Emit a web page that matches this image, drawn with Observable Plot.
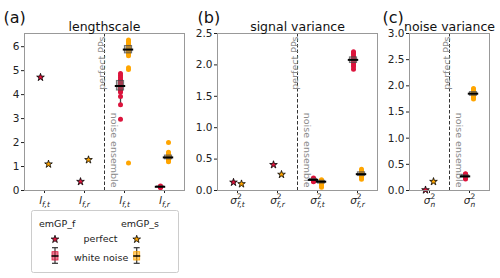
<!DOCTYPE html>
<html><head><meta charset="utf-8">
<script src="https://cdn.jsdelivr.net/npm/d3@7"></script>
<script src="https://cdn.jsdelivr.net/npm/@observablehq/plot@0.6"></script>
<style>
html,body{margin:0;padding:0;background:#fff;}
#root{position:relative;width:500px;height:278px;overflow:hidden;font-family:"DejaVu Sans",sans-serif;}
#root svg{position:absolute;top:0;}
</style></head><body><div id="root"></div>
<script>
const RED = "#dc143c", ORANGE = "#ffa500";

// ---------- (a) lengthscale ----------
const lsLabels = ["l_{f,t}", "l_{f,r}", "l_{f,t}", "l_{f,r}"];
const lsPerfectF = [4.72, 0.37];
const lsPerfectS = [1.10, 1.28];
const lsNoiseFt = [2.97, 3.58, 3.92, 4.10, 4.15, 4.20, 4.25, 4.30, 4.33, 4.36, 4.40, 4.44, 4.48, 4.53, 4.58, 4.64, 4.72, 4.80, 4.88];
const lsNoiseSt = [1.15, 5.05, 5.12, 5.62, 5.68, 5.74, 5.80, 5.85, 5.88, 5.92, 5.96, 6.00, 6.05, 6.10, 6.16, 6.22, 6.28];
const lsNoiseFr = [0.12, 0.14, 0.15, 0.16, 0.17, 0.19];
const lsNoiseSr = [1.20, 1.24, 1.28, 1.32, 1.36, 1.39, 1.43, 1.48, 1.55, 1.60, 2.00];
// box stats: [q1, median, q3, whisker low, whisker high]
const lsBoxFt = [4.17, 4.36, 4.57, 3.58, 4.88];
const lsBoxSt = [5.72, 5.88, 6.03, 5.62, 6.28];
const lsBoxFr = [0.14, 0.155, 0.17, 0.12, 0.19];
const lsBoxSr = [1.30, 1.38, 1.46, 1.20, 1.60];
const lsTicks = [0, 1, 2, 3, 4, 5, 6];

// ---------- (b) signal variance ----------
const svLabels = ["σ^2_{f,t}", "σ^2_{f,r}", "σ^2_{f,t}", "σ^2_{f,r}"];
const svPerfectF = [0.13, 0.41];
const svPerfectS = [0.105, 0.255];
const svNoiseFt = [0.14, 0.15, 0.16, 0.165, 0.17, 0.175, 0.18, 0.19, 0.20];
const svNoiseSt = [0.05, 0.08, 0.10, 0.12, 0.13, 0.14, 0.15, 0.16, 0.17];
const svNoiseFr = [1.93, 1.97, 2.00, 2.03, 2.05, 2.07, 2.09, 2.11, 2.13, 2.16, 2.19, 2.21];
const svNoiseSr = [0.18, 0.21, 0.23, 0.25, 0.26, 0.27, 0.29, 0.31, 0.34];
const svBoxFt = [0.155, 0.17, 0.185, 0.14, 0.20];
const svBoxSt = [0.11, 0.14, 0.155, 0.05, 0.17];
const svBoxFr = [2.03, 2.08, 2.12, 1.93, 2.21];
const svBoxSr = [0.23, 0.26, 0.29, 0.18, 0.34];
const svTicks = [0, 0.5, 1.0, 1.5, 2.0, 2.5];

// ---------- (c) noise variance ----------
const nvLabels = ["σ^2_{n}", "σ^2_{n}"];
const nvPerfectF = [0.01];
const nvPerfectS = [0.17];
const nvNoiseF = [0.22, 0.24, 0.25, 0.26, 0.27, 0.28, 0.29, 0.31, 0.32];
const nvNoiseS = [1.75, 1.78, 1.80, 1.82, 1.84, 1.85, 1.86, 1.88, 1.90, 1.93, 1.95];
const nvBoxF = [0.25, 0.27, 0.29, 0.22, 0.32];
const nvBoxS = [1.81, 1.85, 1.88, 1.75, 1.95];
const nvTicks = [0, 0.5, 1.0, 1.5, 2.0, 2.5, 3.0];

const root = document.getElementById("root");

function richLabel(el, s) {
  const m = s.match(/^(.)(?:\^(\w))?_\{(.+)\}$/);
  if (!m) return;
  const [, base, sup, sub] = m;
  while (el.firstChild) el.removeChild(el.firstChild);
  const NS = "http://www.w3.org/2000/svg";
  const t = (txt, attrs) => {
    const ts = document.createElementNS(NS, "tspan");
    ts.textContent = txt;
    for (const k in attrs) ts.setAttribute(k, attrs[k]);
    el.appendChild(ts);
  };
  t(base, {"font-style": "italic"});
  if (sup) {
    t(sup, {"font-size": "7.5", dy: "-4.5"});
    t(sub, {"font-size": "7.5", "font-style": "italic", dx: "-4.8", dy: "8"});
  } else {
    t(sub, {"font-size": "7.5", "font-style": "italic", dy: "3"});
  }
}

function makePanel(cfg) {
  const off = 0.1, bw = 0.09, mw = 0.13;
  const perfF = cfg.perfF.map((v, i) => ({x: i - off, v}));
  const perfS = cfg.perfS.map((v, i) => ({x: i + off, v}));
  const ptsF = [], ptsS = [], boxes = [];
  for (const e of cfg.noise) {
    e.f.forEach(v => ptsF.push({x: e.cat - off, v}));
    e.s.forEach(v => ptsS.push({x: e.cat + off, v}));
    for (const [b, x] of [[e.fb, e.cat - off], [e.sb, e.cat + off]])
      boxes.push({x, q1: b[0], med: b[1], q3: b[2], lo: b[3], hi: b[4]});
  }
  const nCat = cfg.labels.length;
  const svg = Plot.plot({
    width: cfg.width, height: 215,
    marginTop: 33, marginBottom: 25, marginLeft: cfg.ml, marginRight: cfg.mr,
    style: {fontFamily: "DejaVu Sans", fontSize: "10.5px", color: "#222", background: "transparent", overflow: "visible"},
    x: {type: "linear", domain: [-0.5, nCat - 0.5], ticks: d3.range(nCat), tickFormat: i => cfg.labels[i], tickSize: 3, tickPadding: 3, label: null},
    y: {domain: cfg.yDomain, ticks: cfg.yTicks, tickFormat: cfg.yFmt, tickSize: 3, tickPadding: 2, label: null},
    marks: [
      Plot.ruleX([cfg.divider], {x: d => d, stroke: "#333", strokeDasharray: "3.5,2", strokeWidth: 1}),
      Plot.text([cfg.divider], {x: d => d, text: () => "perfect PPs", frameAnchor: "top", rotate: -90, textAnchor: "end", dx: -6.5, dy: 3, fill: "#8c8c8c", fontSize: 9.5}),
      Plot.text([cfg.divider], {x: d => d, text: () => "noise ensemble", frameAnchor: "bottom", rotate: 90, textAnchor: "end", dx: 6.5, dy: -3, fill: "#8c8c8c", fontSize: 9.5}),
      Plot.ruleX(boxes, {x: "x", y1: "lo", y2: "q1", stroke: "#444", strokeWidth: 1.3}),
      Plot.ruleX(boxes, {x: "x", y1: "q3", y2: "hi", stroke: "#444", strokeWidth: 1.3}),
      Plot.dot(ptsF, {x: "x", y: "v", r: 2.5, fill: RED}),
      Plot.dot(ptsS, {x: "x", y: "v", r: 2.5, fill: ORANGE}),
      Plot.rect(boxes, {x1: d => d.x - bw, x2: d => d.x + bw, y1: "q1", y2: "q3", fill: "#666", fillOpacity: 0.5, stroke: "#444", strokeOpacity: 0.7}),
      Plot.ruleY(boxes, {y: "med", x1: d => d.x - mw, x2: d => d.x + mw, stroke: "#000", strokeWidth: 2}),
      Plot.dot(perfF, {x: "x", y: "v", symbol: "star", r: 2.4, fill: RED, stroke: "#000", strokeWidth: 0.8}),
      Plot.dot(perfS, {x: "x", y: "v", symbol: "star", r: 2.4, fill: ORANGE, stroke: "#000", strokeWidth: 0.8}),
      Plot.frame({stroke: "#999"}),
      Plot.text([cfg.title], {text: d => d, frameAnchor: "top", lineAnchor: "bottom", dy: -3, fontSize: 12.5, fill: "#111"}),
      Plot.text([cfg.tag], {text: d => d, frameAnchor: "top-left", textAnchor: "start", lineAnchor: "bottom", dx: cfg.tagDx, dy: -11, fontSize: 16, fill: "#111"})
    ]
  });
  svg.style.left = cfg.left + "px";
  const labelSet = new Set(cfg.labels);
  svg.querySelectorAll("text").forEach(el => {
    if (labelSet.has(el.textContent)) richLabel(el, el.textContent);
  });
  root.appendChild(svg);
}

makePanel({labels: lsLabels, yDomain: [0, 6.55], yTicks: lsTicks, yFmt: d3.format("d"), divider: 1.5,
  perfF: lsPerfectF, perfS: lsPerfectS,
  noise: [{cat: 2, f: lsNoiseFt, fb: lsBoxFt, s: lsNoiseSt, sb: lsBoxSt},
          {cat: 3, f: lsNoiseFr, fb: lsBoxFr, s: lsNoiseSr, sb: lsBoxSr}],
  title: "lengthscale", tag: "(a)", tagDx: -21, left: 0, width: 190, ml: 24, mr: 6});

makePanel({labels: svLabels, yDomain: [0, 2.5], yTicks: svTicks, yFmt: d3.format(".1f"), divider: 1.5,
  perfF: svPerfectF, perfS: svPerfectS,
  noise: [{cat: 2, f: svNoiseFt, fb: svBoxFt, s: svNoiseSt, sb: svBoxSt},
          {cat: 3, f: svNoiseFr, fb: svBoxFr, s: svNoiseSr, sb: svBoxSr}],
  title: "signal variance", tag: "(b)", tagDx: -20, left: 190, width: 190, ml: 27, mr: 3});

makePanel({labels: nvLabels, yDomain: [0, 3.0], yTicks: nvTicks, yFmt: d3.format(".1f"), divider: 0.5,
  perfF: nvPerfectF, perfS: nvPerfectS,
  noise: [{cat: 1, f: nvNoiseF, fb: nvBoxF, s: nvNoiseS, sb: nvBoxS}],
  title: "noise variance", tag: "(c)", tagDx: -27, left: 380, width: 120, ml: 29, mr: 11});

// ---------- legend ----------
const legSeries = ["emGP_f", "emGP_s"];
const legRows = ["perfect", "white noise"];
const legColors = [RED, ORANGE];
const leg = d3.create("svg").attr("width", 150).attr("height", 66)
  .style("left", "31px").style("top", "210px")
  .attr("font-family", "DejaVu Sans").attr("font-size", 9.5).attr("fill", "#222");
leg.append("rect").attr("x", 0.5).attr("y", 0.5).attr("width", 147).attr("height", 62).attr("rx", 2)
  .attr("fill", "#fff").attr("stroke", "#ccc");
const colX = [24, 105.7];
leg.append("text").attr("x", 8).attr("y", 17).text(legSeries[0]);
leg.append("text").attr("x", 90).attr("y", 17).text(legSeries[1]);
leg.append("text").attr("x", 69.5).attr("y", 31.5).attr("text-anchor", "middle").text(legRows[0]);
leg.append("text").attr("x", 43).attr("y", 50.5).text(legRows[1]);
const star = d3.symbol(d3.symbolStar, Math.PI * 2.4 * 2.4)();
colX.forEach((cx, i) => {
  leg.append("path").attr("d", star).attr("transform", `translate(${cx},29.3)`)
    .attr("fill", legColors[i]).attr("stroke", "#000").attr("stroke-width", 0.8);
  const g = leg.append("g").attr("transform", `translate(${cx},0)`);
  g.append("line").attr("x1", 0).attr("x2", 0).attr("y1", 37.7).attr("y2", 53.3).attr("stroke", "#333").attr("stroke-width", 1.2);
  g.append("line").attr("x1", -3).attr("x2", 3).attr("y1", 37.7).attr("y2", 37.7).attr("stroke", "#333").attr("stroke-width", 1.2);
  g.append("line").attr("x1", -3).attr("x2", 3).attr("y1", 53.3).attr("y2", 53.3).attr("stroke", "#333").attr("stroke-width", 1.2);
  g.append("rect").attr("x", -3).attr("y", 41.7).attr("width", 6).attr("height", 8.3)
    .attr("fill", legColors[i]).attr("fill-opacity", 0.55).attr("stroke", legColors[i]).attr("stroke-width", 0.8);
  g.append("line").attr("x1", -3.5).attr("x2", 3.5).attr("y1", 46).attr("y2", 46).attr("stroke", "#000").attr("stroke-width", 1.5);
});
root.appendChild(leg.node());
</script></body></html>
